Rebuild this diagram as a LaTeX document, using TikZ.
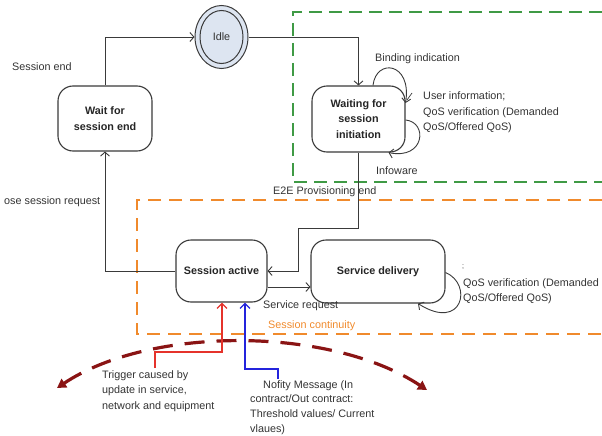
\documentclass[tikz,border=0pt]{standalone}
\usepackage{fontspec}
\setmainfont{Liberation Sans}
\usetikzlibrary{arrows.meta,shapes.geometric}
\definecolor{linegray}{HTML}{3A3A3A}
\definecolor{textgray}{HTML}{333333}
\definecolor{idlefill}{HTML}{DDE5F1}
\definecolor{zonegreen}{HTML}{3F9A45}
\definecolor{zoneorange}{HTML}{F08A2C}
\definecolor{arcred}{HTML}{8A1414}
\definecolor{trigred}{HTML}{E5322B}
\definecolor{noteblue}{HTML}{2424DC}
\tikzset{
  statebox/.style={draw=linegray, line width=1.1pt, fill=white, rounded corners=15pt,
    inner sep=0pt, align=center, font=\fontsize{10.8}{15.5}\selectfont\bfseries, text=black!85},
  lbl/.style={inner sep=0pt, align=left, text=textgray, font=\fontsize{10.8}{15.3}\selectfont},
  conn/.style={draw=linegray, line width=0.9pt, -{Straight Barb[length=4pt,width=9pt]}},
  greenzone/.style={draw=zonegreen, line width=1.5pt, dash pattern=on 13pt off 7pt},
  orangezone/.style={draw=zoneorange, line width=1.5pt, dash pattern=on 13pt off 8pt},
  eventarc/.style={draw=arcred, line width=3.2pt, dash pattern=on 20pt off 12pt,
    {Triangle[length=9pt,width=10pt]}-{Triangle[length=9pt,width=10pt]}},
  trigline/.style={draw=trigred, line width=1.3pt, -{Straight Barb[length=5pt,width=10pt]}},
  noteline/.style={draw=noteblue, line width=1.3pt, -{Straight Barb[length=5pt,width=10pt]}},
}
\begin{document}
\begin{tikzpicture}[x=1pt,y=-1pt]
\useasboundingbox (0,0) rectangle (602,436);

% zones
\draw[greenzone] (602,12) -- (293,12) -- (293,182) -- (602,182);
\draw[orangezone] (602,200) -- (137,200) -- (137,334) -- (602,334);

% states
\node[draw=linegray, line width=1pt, fill=idlefill, ellipse, minimum width=53pt, minimum height=63pt, inner sep=0pt] (idleouter) at (221.5,37) {};
\node[draw=linegray, line width=1pt, fill=idlefill, ellipse, minimum width=43pt, minimum height=53pt, inner sep=0pt,
  font=\fontsize{10.8}{13}\selectfont, text=textgray] (idle) at (221.5,37) {Idle};
\node[statebox, minimum width=94pt, minimum height=65pt] (wait) at (105,118.5) {Wait for\\session end};
\node[statebox, minimum width=93pt, minimum height=66pt] (waiting) at (358.5,119) {Waiting for\\session\\initiation};
\node[statebox, minimum width=91pt, minimum height=62pt] (active) at (221.5,271) {Session active};
\node[statebox, minimum width=134pt, minimum height=63pt] (service) at (378,271.5) {Service delivery};

% transitions
\draw[conn] (wait.north) |- (idleouter.west);
\draw[conn] (idleouter.east) -| (waiting.north);
\draw[conn] (active.west) -| (wait.south);
\coordinate (bend) at (298,228);
\draw[conn] (waiting.south) |- (bend) |- (active.east);
\draw[conn] (active.east |- 0,287) -- (service.west |- 0,287);

% self loops
\draw[conn] ([xshift=14.5pt]waiting.north) .. controls (376,58) and (412,62) .. ([yshift=16pt]waiting.east);
\draw[conn] ([yshift=-1pt]waiting.east) .. controls (428,122) and (425,160) .. ([xshift=30pt]waiting.south);
\draw[conn] ([yshift=-1pt]service.east) .. controls (473,284) and (463,332) .. ([xshift=40pt]service.south);
\draw[linegray, line width=0.7pt] (412,93) -- (407,100);

% events from outside
\coordinate (arcL) at (57,388);
\coordinate (arcR) at (427,390);
\draw[eventarc] (arcL) .. controls (150,326) and (330,326) .. (arcR);
\coordinate (trigfoot) at (155,368);
\coordinate (notefoot) at (278,379);
\draw[trigline] (trigfoot) |- ([xshift=0.5pt]active.south |- 0,352) -- ([xshift=0.5pt]active.south);
\draw[noteline] (notefoot) |- ([xshift=23.5pt]active.south |- 0,369) -- ([xshift=23.5pt]active.south);

% labels
\node[lbl, anchor=west] (lsessend) at (12,67) {Session end};
\node[lbl, anchor=west] (lclose) at (4,202) {ose session request};
\node[lbl, anchor=west] (lbind) at (375,59) {Binding indication};
\node[lbl, anchor=west] (luser) at (423,112.5) {User information;\\QoS verification (Demanded\\QoS/Offered QoS)};
\node[lbl, anchor=west] (linfo) at (376,171) {Infoware};
\node[lbl, anchor=west] (le2e) at (273,192) {E2E Provisioning end};
\node[lbl, anchor=west] (lreq) at (263,306) {Service request};
\node[lbl, anchor=west, text=zoneorange] (lcont) at (268,326) {Session continuity};
\node[lbl, anchor=west] (lsemi) at (462,267) {\fontsize{7}{8}\selectfont;};
\node[lbl, anchor=west] (lqos) at (463,291.5) {QoS verification (Demanded\\QoS/Offered QoS)};
\node[lbl, anchor=west] (ltrig) at (102,391) {Trigger caused by\\update in service,\\network and equipment};
\node[lbl, anchor=west, font=\fontsize{10.8}{14.8}\selectfont] (lnote) at (250,407.5) {\hspace{13pt}Nofity Message (In\\contract/Out contract:\\Threshold values/ Current\\vlaues)};
\end{tikzpicture}
\end{document}
